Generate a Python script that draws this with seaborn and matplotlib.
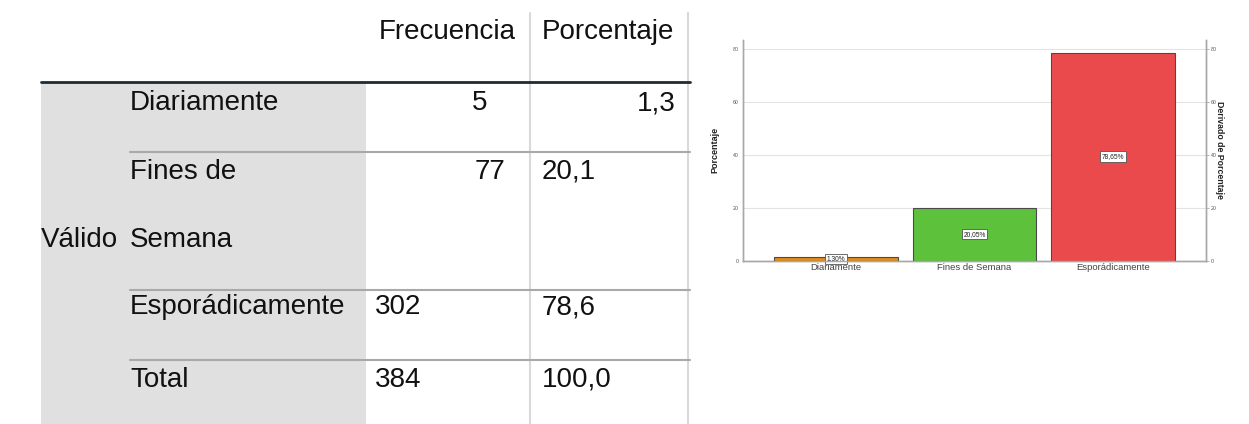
import matplotlib
matplotlib.use('Agg')
import matplotlib.pyplot as plt
import seaborn as sns
import pandas as pd

# Datos de la tabla de frecuencias
categorias = ['Diariamente', 'Fines de Semana', 'Esporádicamente']
frecuencia = [5, 77, 302]
porcentaje_tabla = ['1,3', '20,1', '78,6']
total_frecuencia = 384
total_porcentaje = '100,0'

# Datos del grafico de barras
porcentaje_barras = [1.30, 20.05, 78.65]
colores = ['#E38B14', '#5EC13B', '#EB4A4C']
ticks_y = [0, 20, 40, 60, 80]

df = pd.DataFrame({'Categoria': categorias, 'Porcentaje': porcentaje_barras})

sns.set_theme(style="white")
plt.rcParams['font.family'] = ['Liberation Sans', 'DejaVu Sans']

W, H = 1249, 424
fig = plt.figure(figsize=(W / 100, H / 100), dpi=100)

# ---------- TABLA (en pixeles de la figura) ----------
tab = fig.add_axes([0, 0, 1, 1])
tab.set_xlim(0, W)
tab.set_ylim(H, 0)
tab.axis('off')

tab.add_patch(plt.Rectangle((41, 83), 366 - 41, H - 83, color='#E0E0E0', lw=0, zorder=0))
for xv in [530, 688]:
    tab.plot([xv, xv], [13, H], color='#D9D9D9', lw=1.5, zorder=1)
tab.plot([41, 690], [82, 82], color='#1C2B36', lw=2, zorder=2)
for yv in [152, 290, 360]:
    tab.plot([130, 690], [yv, yv], color='#A9A9A9', lw=1.5, zorder=2)

fs = 20
txt = dict(fontsize=fs, color='#111111', va='center', zorder=3)
tab.text(447, 32, 'Frecuencia', ha='center', **txt)
tab.text(608, 32, 'Porcentaje', ha='center', **txt)

# Filas
tab.text(130, 103, categorias[0], ha='left', **txt)
tab.text(487, 103, str(frecuencia[0]), ha='right', **txt)
tab.text(676, 103, porcentaje_tabla[0], ha='right', **txt)

primera, segunda = categorias[1].rsplit(' ', 1)
tab.text(130, 172, primera, ha='left', **txt)
tab.text(130, 240, segunda, ha='left', **txt)
tab.text(41, 240, 'Válido', ha='left', **txt)
tab.text(505, 172, str(frecuencia[1]), ha='right', **txt)
tab.text(542, 172, porcentaje_tabla[1], ha='left', **txt)

tab.text(130, 307, categorias[2], ha='left', **txt)
tab.text(375, 307, str(frecuencia[2]), ha='left', **txt)
tab.text(542, 307, porcentaje_tabla[2], ha='left', **txt)

tab.text(130, 380, 'Total', ha='left', **txt)
tab.text(375, 380, str(total_frecuencia), ha='left', **txt)
tab.text(542, 380, total_porcentaje, ha='left', **txt)

# ---------- GRAFICO DE BARRAS ----------
left, right, top, bottom = 743, 1206, 40, 260.7
ax = fig.add_axes([left / W, 1 - bottom / H, (right - left) / W, (bottom - top) / H])
sns.barplot(
    data=df,
    x='Categoria',
    y='Porcentaje',
    hue='Categoria',
    palette=colores,
    saturation=1,
    legend=False,
    width=0.89,
    edgecolor='#4A4A4A',
    linewidth=0.8,
    ax=ax,
    zorder=3,
)
ax.set_xlim(-0.67, 2.67)
ax.set_ylim(0, 83.4)
ax.set_yticks(ticks_y)
ax.yaxis.grid(True, color='#E3E3E3', lw=0.8, zorder=0)
ax.set_axisbelow(True)
ax.tick_params(axis='y', labelsize=3.8, labelcolor='#555555', length=0, pad=3)
ax.tick_params(axis='x', labelsize=6.8, labelcolor='#444444', length=0, pad=1.5)
ax.set_xlabel('')
ax.set_ylabel('Porcentaje', fontsize=6.5, fontweight='bold', color='#222222')
ax.yaxis.set_label_coords(-0.052, 0.5)
for s in ['left', 'right', 'bottom']:
    ax.spines[s].set_color('#A8A8A8')
    ax.spines[s].set_linewidth(1)
ax.spines['top'].set_visible(False)

for i, v in enumerate(porcentaje_barras):
    etiqueta = f"{v:.2f}%".replace('.', ',')
    yv = v / 2 if v > 5 else 0.7
    ax.text(i, yv, etiqueta, ha='center', va='center', fontsize=4.8, color='#222222', zorder=5,
            bbox=dict(boxstyle='square,pad=0.25', fc='white', ec='#555555', lw=0.6))

ax2 = ax.twinx()
ax2.set_ylim(ax.get_ylim())
ax2.set_yticks(ticks_y)
ax2.tick_params(axis='y', labelsize=3.8, labelcolor='#555555', length=2, width=0.6,
                color='#A8A8A8', pad=1.5)
ax2.set_ylabel('Derivado de Porcentaje', fontsize=6.3, fontweight='bold', color='#222222',
               rotation=270)
ax2.yaxis.set_label_coords(1.039, 0.5)
for s in ['left', 'right', 'bottom']:
    ax2.spines[s].set_color('#A8A8A8')
    ax2.spines[s].set_linewidth(1)
ax2.spines['top'].set_visible(False)
ax2.grid(False)

fig.savefig('out.png', dpi=100)
plt.close(fig)
